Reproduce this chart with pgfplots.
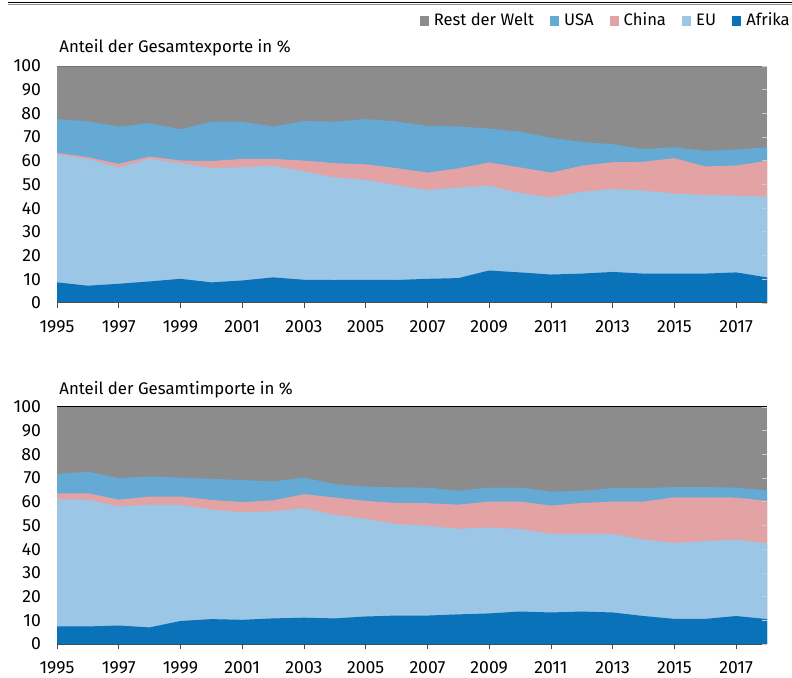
\documentclass[border=0pt]{standalone}
\usepackage{fontspec}
\setmainfont{Fira Sans}
\usepackage{pgfplots}
\usepackage{pgfplotstable}
\pgfplotsset{compat=1.18}

\definecolor{rdw}{RGB}{140,140,140}
\definecolor{usa}{RGB}{100,170,213}
\definecolor{chn}{RGB}{227,163,165}
\definecolor{eu}{RGB}{155,198,229}
\definecolor{afr}{RGB}{10,114,185}

% cumulative upper edges of the stacked areas (Afrika, +EU, +China, +USA)
\pgfplotstableread{
year afr eu cn usa
1995 8.7 62.7 63.4 77.6
1996 7.3 60.8 61.5 76.6
1997 8.1 57.1 58.7 74.4
1998 9.1 60.8 61.8 75.9
1999 10.2 59.0 60.1 73.3
2000 8.7 56.9 59.9 76.5
2001 9.5 57.3 60.8 76.5
2002 10.8 58.0 60.8 74.5
2003 9.8 55.5 60.1 76.8
2004 9.7 53.0 59.0 76.5
2005 9.8 52.0 58.5 77.6
2006 9.7 49.7 56.9 76.6
2007 10.2 47.7 55.0 74.7
2008 10.5 48.7 56.8 74.5
2009 13.7 49.5 59.3 73.6
2010 12.9 46.4 57.2 72.3
2011 12.0 44.5 55.0 69.7
2012 12.4 46.9 57.9 68.0
2013 13.1 48.1 59.4 67.0
2014 12.4 47.4 59.6 65.0
2015 12.4 46.2 61.1 65.7
2016 12.4 45.6 57.6 64.2
2017 12.9 45.3 58.0 64.8
2018 10.8 44.8 60.0 65.7
}\exporte

\pgfplotstableread{
year afr eu cn usa
1995 7.4 61.1 63.6 71.7
1996 7.4 60.9 63.6 72.7
1997 7.8 58.0 60.9 70.0
1998 7.0 58.8 62.2 70.7
1999 9.7 58.7 62.2 70.2
2000 10.5 56.7 60.8 69.7
2001 10.2 55.6 59.9 69.2
2002 10.8 56.0 60.6 68.6
2003 11.1 57.3 63.2 70.2
2004 10.8 54.5 61.8 67.5
2005 11.6 52.8 60.4 66.4
2006 12.0 50.6 59.5 66.1
2007 12.0 49.9 59.4 66.0
2008 12.5 48.6 58.8 64.7
2009 12.9 49.2 60.1 66.0
2010 13.7 48.5 60.1 66.0
2011 13.3 46.5 58.4 64.3
2012 13.7 46.5 59.5 64.6
2013 13.3 46.4 60.1 65.8
2014 11.8 44.1 60.1 65.8
2015 10.6 42.6 61.9 66.2
2016 10.6 43.4 61.9 66.2
2017 11.8 44.1 61.8 66.0
2018 10.5 42.4 60.4 64.8
}\importe

\pgfplotsset{
  anteil/.style={
    width=355pt, height=118.5pt, scale only axis,
    xmin=1995, xmax=2018, ymin=0, ymax=100,
    xtick={1995,1997,...,2017}, ytick={0,10,...,100},
    xticklabel style={/pgf/number format/1000 sep={}, yshift=-2.5pt},
    axis line style={draw=none},
    xtick pos=bottom, ytick pos=right, yticklabel pos=left,
    tick align=outside, major tick length=2.5pt,
    x tick style={black!70, line width=0.4pt},
    y tick style={black!20, line width=0.4pt, xshift=-2.5pt},
    yticklabel style={xshift=-2pt},
    tick label style={font=\fontsize{8.8}{10}\selectfont},
    /pgf/number format/assume math mode=true,
    axis on top,
    legend image code/.code={\fill[#1] (0pt,-2.3pt) rectangle (4.6pt,2.3pt);},
  },
  flaeche/.style={fill=#1, draw=none},
}

\begin{document}
\begin{tikzpicture}
\path[use as bounding box] (0,0) rectangle (396pt,-339pt);
\draw[black, line width=0.9pt] (4pt,-1.3pt) -- (396pt,-1.3pt);
\draw[black!45, line width=0.3pt] (4pt,-2pt) -- (396pt,-2pt);

\begin{axis}[anteil, at={(28.5pt,-33pt)}, anchor=north west,
  legend columns=5,
  legend style={at={(1.034,1.19)}, anchor=east, draw=none, fill=none,
    inner sep=0pt, font=\fontsize{8.3}{9}\selectfont,
    nodes={inner sep=0.5pt},
    /tikz/every odd column/.append style={column sep=2pt},
    /tikz/every even column/.append style={column sep=7.5pt}}]
\addplot[flaeche=rdw] coordinates {(1995,100) (2018,100)} \closedcycle;
\addplot[flaeche=usa] table[x=year, y=usa] {\exporte} \closedcycle;
\addplot[flaeche=chn] table[x=year, y=cn] {\exporte} \closedcycle;
\addplot[flaeche=eu] table[x=year, y=eu] {\exporte} \closedcycle;
\addplot[flaeche=afr] table[x=year, y=afr] {\exporte} \closedcycle;
\legend{Rest der Welt, USA, China, EU, Afrika}
\draw[black!55, line width=0.4pt] (rel axis cs:0,1) -- (rel axis cs:1,1);
\draw[black!20, line width=0.4pt] (rel axis cs:1,0) -- (rel axis cs:1,1);
\draw[black!70, line width=0.5pt] (rel axis cs:0,0) -- (rel axis cs:1,0);
\end{axis}

\begin{axis}[anteil, at={(28.5pt,-203.5pt)}, anchor=north west]
\addplot[flaeche=rdw] coordinates {(1995,100) (2018,100)} \closedcycle;
\addplot[flaeche=usa] table[x=year, y=usa] {\importe} \closedcycle;
\addplot[flaeche=chn] table[x=year, y=cn] {\importe} \closedcycle;
\addplot[flaeche=eu] table[x=year, y=eu] {\importe} \closedcycle;
\addplot[flaeche=afr] table[x=year, y=afr] {\importe} \closedcycle;
\draw[black, line width=0.5pt] (rel axis cs:0,1) -- (rel axis cs:1,1);
\draw[black!20, line width=0.4pt] (rel axis cs:1,0) -- (rel axis cs:1,1);
\draw[black!70, line width=0.5pt] (rel axis cs:0,0) -- (rel axis cs:1,0);
\end{axis}

\node[anchor=base west, font=\fontsize{8.4}{10}\selectfont, inner sep=0pt] at (29.5pt,-26.5pt) {Anteil der Gesamtexporte in \%};
\node[anchor=base west, font=\fontsize{8.4}{10}\selectfont, inner sep=0pt] at (29.5pt,-197pt) {Anteil der Gesamtimporte in \%};
\end{tikzpicture}
\end{document}
